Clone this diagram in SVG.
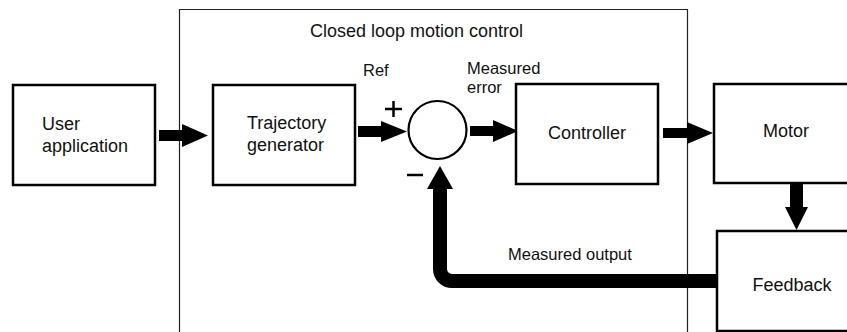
<svg xmlns="http://www.w3.org/2000/svg" width="847" height="332" viewBox="0 0 847 332">
<style>
  text { font-family: "Liberation Sans", Arial, sans-serif; fill: #111; }
  .lbl { font-size: 18px; }
  .sm { font-size: 16.5px; }
  .box { fill: #fff; stroke: #000; stroke-width: 2.5; }
  .arr { fill: #000; stroke: none; }
  .frame { fill: none; stroke: #222; stroke-width: 1.2; }
  .sign { stroke: #000; stroke-width: 2.5; fill: none; }
</style>
<g id="frame">
  <path class="frame" d="M179.5 333 V9.5 H687.5 V333"/>
  <text class="lbl" x="310" y="37">Closed loop motion control</text>
</g>
<g id="connectors">
  <polygon class="arr" points="159,130 182,130 182,124 208,135.5 182,147 182,141 159,141"/>
  <polygon class="arr" points="358,126 381,126 381,121 407,131.5 381,142 381,137 358,137"/>
  <polygon class="arr" points="470,126 493,126 493,120 518,131 493,142 493,136 470,136"/>
  <polygon class="arr" points="663,128 687,128 687,122 713,133 687,144 687,138 663,138"/>
  <polygon class="arr" points="790,184 803,184 803,207 808,207 796.5,230 785,207 790,207"/>
  <path d="M717 281 H452 A12 12 0 0 1 440 269 V188" fill="none" stroke="#000" stroke-width="14"/>
  <polygon class="arr" points="427,189 453,189 440,166"/>
  <text class="sm" x="363" y="76">Ref</text>
  <text class="sm" x="467" y="74">Measured</text>
  <text class="sm" x="467" y="93">error</text>
  <text class="sm" x="508" y="260">Measured output</text>
</g>
<g id="user-application">
  <rect class="box" x="13" y="85" width="142" height="100"/>
  <text class="lbl" x="42" y="130">User</text>
  <text class="lbl" x="42" y="152">application</text>
</g>
<g id="trajectory-generator">
  <rect class="box" x="213" y="85" width="142" height="100"/>
  <text class="lbl" x="247" y="129">Trajectory</text>
  <text class="lbl" x="247" y="151">generator</text>
</g>
<g id="summing-junction">
  <circle cx="437.5" cy="130" r="29" fill="#fff" stroke="#000" stroke-width="2.2"/>
  <path class="sign" d="M385 109 H402 M393.5 101 V117"/>
  <path class="sign" d="M407 175 H423"/>
</g>
<g id="controller">
  <rect class="box" x="516" y="84" width="142" height="100"/>
  <text class="lbl" x="587" y="139" text-anchor="middle">Controller</text>
</g>
<g id="motor">
  <rect class="box" x="714" y="84" width="140" height="99"/>
  <text class="lbl" x="786" y="137" text-anchor="middle">Motor</text>
</g>
<g id="feedback">
  <rect class="box" x="717" y="231" width="140" height="100"/>
  <text class="lbl" x="792" y="291" text-anchor="middle">Feedback</text>
</g>
</svg>
